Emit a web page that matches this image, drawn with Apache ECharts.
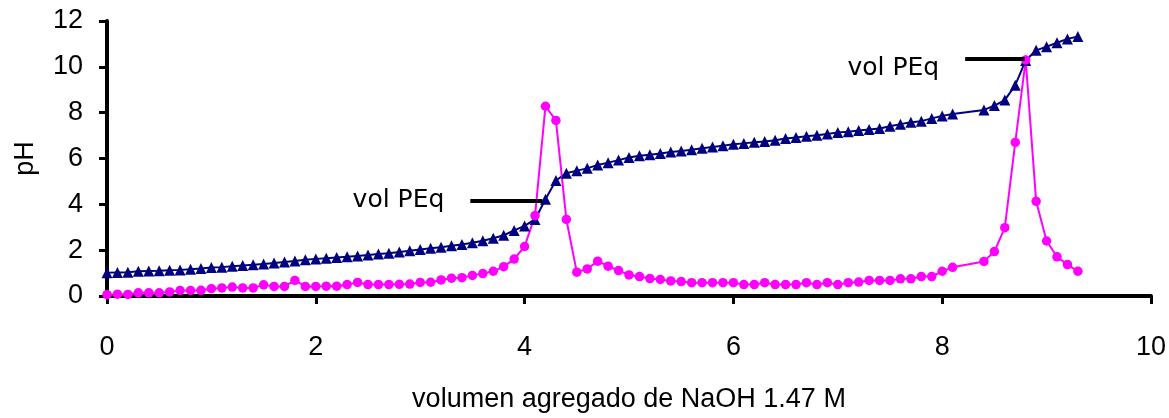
<!DOCTYPE html>
<html>
<head>
<meta charset="utf-8">
<script src="https://cdn.jsdelivr.net/npm/echarts@6/dist/echarts.min.js"></script>
<style>
  html, body { margin: 0; padding: 0; background: #fff; }
  #chart { width: 1169px; height: 418px; }
</style>
</head>
<body>
<div id="chart"></div>
<script>
// volumen de NaOH (mL)
const vol = [
  0.0, 0.1, 0.2, 0.3, 0.4, 0.5, 0.6, 0.7, 0.8, 0.9,
  1.0, 1.1, 1.2, 1.3, 1.4, 1.5, 1.6, 1.7, 1.8, 1.9,
  2.0, 2.1, 2.2, 2.3, 2.4, 2.5, 2.6, 2.7, 2.8, 2.9,
  3.0, 3.1, 3.2, 3.3, 3.4, 3.5, 3.6, 3.7, 3.8, 3.9,
  4.0, 4.1, 4.2, 4.3, 4.4, 4.5, 4.6, 4.7, 4.8, 4.9,
  5.0, 5.1, 5.2, 5.3, 5.4, 5.5, 5.6, 5.7, 5.8, 5.9,
  6.0, 6.1, 6.2, 6.3, 6.4, 6.5, 6.6, 6.7, 6.8, 6.9,
  7.0, 7.1, 7.2, 7.3, 7.4, 7.5, 7.6, 7.7, 7.8, 7.9,
  8.0, 8.1, 8.4, 8.5, 8.6, 8.7, 8.8, 8.9, 9.0, 9.1,
  9.2, 9.3
]
// pH medido
const ph = [
  1.02, 1.03, 1.04, 1.08, 1.09, 1.10, 1.12, 1.14, 1.17, 1.20,
  1.24, 1.26, 1.30, 1.33, 1.36, 1.40, 1.44, 1.48, 1.53, 1.58,
  1.62, 1.65, 1.68, 1.71, 1.75, 1.79, 1.83, 1.87, 1.92, 1.97,
  2.03, 2.08, 2.13, 2.19, 2.25, 2.32, 2.41, 2.52, 2.65, 2.86,
  3.06, 3.34, 4.22, 5.04, 5.36, 5.47, 5.57, 5.72, 5.82, 5.93,
  6.04, 6.12, 6.16, 6.22, 6.28, 6.33, 6.38, 6.45, 6.50, 6.56,
  6.62, 6.66, 6.71, 6.74, 6.80, 6.87, 6.92, 6.97, 7.01, 7.07,
  7.14, 7.17, 7.22, 7.27, 7.31, 7.41, 7.50, 7.58, 7.63, 7.75,
  7.86, 7.94, 8.12, 8.31, 8.55, 9.20, 10.28, 10.72, 10.88, 11.05,
  11.22, 11.32
]
// primera derivada
const deriv = [
  0.06, 0.08, 0.07, 0.14, 0.14, 0.14, 0.18, 0.24, 0.24, 0.25,
  0.32, 0.35, 0.39, 0.35, 0.35, 0.49, 0.42, 0.42, 0.68, 0.42,
  0.42, 0.43, 0.43, 0.50, 0.59, 0.50, 0.50, 0.50, 0.51, 0.52,
  0.59, 0.60, 0.70, 0.78, 0.80, 0.90, 0.98, 1.08, 1.28, 1.61,
  2.16, 3.51, 8.28, 7.66, 3.34, 1.04, 1.18, 1.52, 1.30, 1.11,
  0.92, 0.85, 0.76, 0.72, 0.66, 0.63, 0.58, 0.58, 0.58, 0.58,
  0.58, 0.50, 0.50, 0.58, 0.50, 0.50, 0.50, 0.58, 0.50, 0.58,
  0.50, 0.58, 0.61, 0.68, 0.68, 0.68, 0.75, 0.75, 0.85, 0.85,
  1.08, 1.25, 1.51, 1.94, 2.98, 6.70, 10.30, 4.13, 2.40, 1.71,
  1.37, 1.08
]
// marcas "vol PEq": [x inicio, x fin, y]
const peq1 = [3.48, 4.17, 4.16]
const peq2 = [8.22, 8.79, 10.37]

const labelFont = "'Liberation Sans', Arial, sans-serif"

let myChart = echarts.init(document.getElementById('chart'))

const axisCommon = {
  axisLine: { lineStyle: { color: '#000', width: 4 } },
  axisTick: { inside: false, length: 8, lineStyle: { color: '#000', width: 3 } },
  splitLine: { show: false },
  axisLabel: { color: '#000', fontSize: 27, fontFamily: labelFont },
  nameTextStyle: { color: '#000', fontSize: 27, fontFamily: labelFont },
}

myChart.setOption({
  animation: false,
  grid: { left: 107, right: 16, top: 21, bottom: 119 },
  xAxis: {
    ...axisCommon,
    type: 'value',
    min: 0,
    max: 10,
    interval: 2,
    name: 'volumen agregado de NaOH 1.47 M',
    nameLocation: 'middle',
    nameGap: 90,
    axisLabel: { ...axisCommon.axisLabel, margin: 38 },
  },
  yAxis: {
    ...axisCommon,
    type: 'value',
    min: 0,
    max: 12,
    interval: 2,
    name: 'pH',
    nameLocation: 'middle',
    nameGap: 68,
    axisLabel: { ...axisCommon.axisLabel, margin: 24 },
  },
  series: [
    {
      name: 'pH',
      type: 'line',
      data: vol.map((v, i) => [v, ph[i]]),
      symbol: 'triangle',
      symbolSize: 11,
      lineStyle: { color: '#000080', width: 2 },
      itemStyle: { color: '#000080' },
      markLine: {
        silent: true,
        symbol: ['none', 'none'],
        lineStyle: { color: '#000', width: 4, type: 'solid' },
        label: {
          show: true,
          position: 'start',
          formatter: 'vol PEq',
          color: '#000',
          fontSize: 25,
          fontFamily: 'DejaVu Sans',
          distance: 26,
        },
        data: [
          [
            { coord: [peq1[0], peq1[2]] },
            { coord: [peq1[1], peq1[2]] },
          ],
          [
            { coord: [peq2[0], peq2[2]], label: { verticalAlign: 'top', lineHeight: 20 } },
            { coord: [peq2[1], peq2[2]] },
          ],
        ],
      },
    },
    {
      name: 'derivada',
      type: 'line',
      data: vol.map((v, i) => [v, deriv[i]]),
      symbol: 'circle',
      symbolSize: 9.5,
      lineStyle: { color: '#ff00ff', width: 2 },
      itemStyle: { color: '#ff00ff' },
    },
  ],
})
</script>
</body>
</html>
